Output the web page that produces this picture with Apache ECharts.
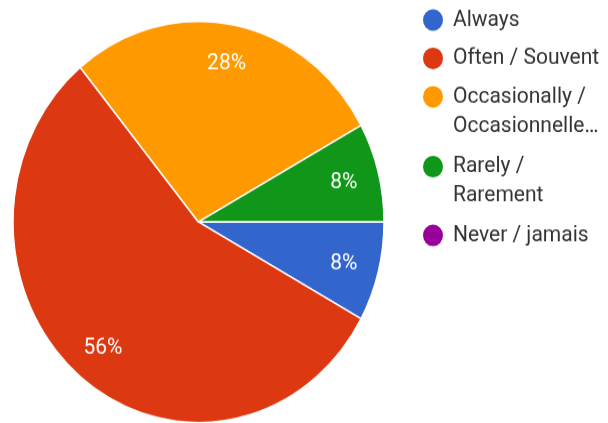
<!DOCTYPE html>
<html>
<head>
<meta charset="utf-8">
<script src="https://cdn.jsdelivr.net/npm/echarts@6/dist/echarts.min.js"></script>
<style>
  html, body { margin: 0; padding: 0; background: #fff; width: 608px; height: 423px; overflow: hidden; }
  /* the chart is drawn a little shorter and stretched vertically */
  #chart { width: 608px; height: 391px; transform: scaleY(1.0818); transform-origin: 0 0; }
</style>
</head>
<body>
<div id="chart"></div>
<script>
// Survey answers (number of respondents per answer)
const categories = ['Always', 'Often / Souvent', 'Occasionally / Occasionnellement', 'Rarely / Rarement', 'Never / jamais'];
const responses = [2, 14, 7, 2, 0];
const legendLabels = ['Always', 'Often / Souvent', 'Occasionally /\nOccasionnelle\u2026', 'Rarely /\nRarement', 'Never / jamais'];
const sliceColors = ['#3366cc', '#dc3912', '#ff9900', '#109618', '#990099'];

const chart = echarts.init(document.getElementById('chart'), null, { renderer: 'canvas' });

const FONT = 'Roboto, "Noto Sans", sans-serif';
const CENTER = [198.5, 205.2];
const RADIUS = 185.5;
const LINE_H = 27;
const ICON = 22;
const iconCenters = [18.5, 53.9, 89.4, 154.1, 217.6];

const pieData = categories.map((name, i) => ({
  name: name,
  value: responses[i],
  itemStyle: { color: sliceColors[i] }
}));

// one legend block per answer; wrapped names get an empty leading line so
// the dot stays level with their first line
const legends = categories.map((name, i) => {
  const multi = legendLabels[i].indexOf('\n') >= 0;
  const text = multi ? '\n' + legendLabels[i] : legendLabels[i];
  return {
    orient: 'vertical',
    left: 421,
    top: iconCenters[i] - ICON / 2 - (multi ? (3 * LINE_H - ICON) / 2 : (LINE_H - ICON) / 2),
    padding: 0,
    icon: 'circle',
    itemWidth: ICON,
    itemHeight: ICON,
    selectedMode: false,
    data: [name],
    formatter: () => text,
    textStyle: { fontFamily: FONT, fontSize: 21, lineHeight: LINE_H, color: '#333333', padding: [0, 0, 0, 4] }
  };
});

chart.setOption({
  animation: false,
  backgroundColor: '#ffffff',
  legend: legends,
  series: [
    {
      type: 'pie',
      center: CENTER,
      radius: [0, RADIUS],
      startAngle: 0,
      clockwise: true,
      silent: true,
      label: { show: false },
      labelLine: { show: false },
      itemStyle: { borderColor: '#ffffff', borderWidth: 1.5 },
      data: pieData
    },
    {
      // percentage labels, placed on a transparent ring
      type: 'pie',
      center: CENTER,
      radius: [108.5, RADIUS],
      startAngle: 0,
      clockwise: true,
      silent: true,
      itemStyle: { color: 'rgba(0,0,0,0)' },
      labelLine: { show: false },
      label: {
        show: true,
        position: 'inside',
        color: '#ffffff',
        fontFamily: FONT,
        fontSize: 21,
        offset: [0, 1],
        formatter: p => (p.value > 0 ? Math.round(p.percent) + '%' : '')
      },
      data: categories.map((name, i) => ({ name: name, value: responses[i] }))
    }
  ]
});
</script>
</body>
</html>
